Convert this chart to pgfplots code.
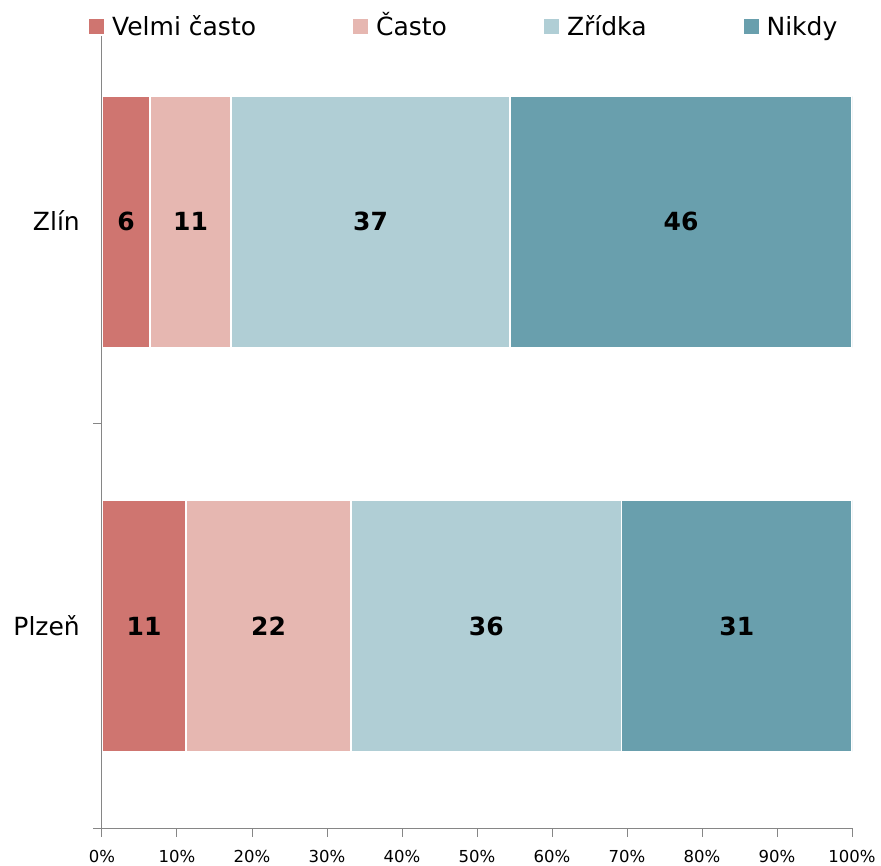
\documentclass[border=0pt]{standalone}
\usepackage{pgfplots}
\pgfplotsset{compat=1.18}
\usepackage{pgfplotstable}
\usepackage{fontspec}
\setmainfont{DejaVu Sans}
\definecolor{cA}{RGB}{207,117,112}
\definecolor{cB}{RGB}{230,183,177}
\definecolor{cC}{RGB}{176,206,213}
\definecolor{cD}{RGB}{105,159,173}
\definecolor{axgray}{RGB}{134,134,134}

\pgfplotstableread{
y x
0.5 11.2
1.5 6.4
}\velmi
\pgfplotstableread{
y x
0.5 22.0
1.5 10.8
}\casto
\pgfplotstableread{
y x
0.5 36.1
1.5 37.2
}\zridka
\pgfplotstableread{
y x
0.5 30.7
1.5 45.6
}\nikdy
\pgfplotstableread{
x y label
3.2 1.5 6
11.8 1.5 11
35.8 1.5 37
77.2 1.5 46
5.6 0.5 11
22.2 0.5 22
51.25 0.5 36
84.65 0.5 31
}\labels

\pgfplotsset{legsq/.style={legend image code/.code={\fill[##1,draw=none] (0pt,-7.5pt) rectangle (15pt,7.5pt);}}}

\begin{document}
\begin{tikzpicture}
\useasboundingbox (-102pt,-37pt) rectangle (779pt,828pt);
\begin{axis}[
  at={(0pt,0pt)}, anchor=south west,
  scale only axis, width=750pt, height=792pt,
  xbar stacked, bar width=251pt,
  xmin=0, xmax=100, ymin=0, ymax=1.96,
  axis x line*=bottom, axis y line*=left,
  axis line style={draw=axgray, line width=1pt, -},
  axis on top,
  tick align=outside, major tick length=8.5pt,
  tick style={draw=axgray, line width=1pt},
  xtick={0,10,...,100},
  xticklabels={0\%,10\%,20\%,30\%,40\%,50\%,60\%,70\%,80\%,90\%,100\%},
  xticklabel style={font=\fontsize{16.5}{20}\selectfont, inner sep=0pt, text height=12pt, text depth=0pt, yshift=-13.5pt},
  ytick={0,1},
  yticklabels={},
  extra y ticks={0.5,1.5},
  extra y tick labels={Plzeň,Zlín},
  extra y tick style={major tick length=0pt, tick style={draw=none}},
  yticklabel style={font=\fontsize{25}{29}\selectfont, inner sep=0pt, text height=18.2pt, text depth=0pt, xshift=-22pt},
  legend columns=-1,
  legend style={at={(0,1)}, anchor=west, xshift=-13pt, yshift=9pt, draw=none, fill=none, inner xsep=0pt, inner ysep=0pt,
     nodes={inner sep=0pt, font=\fontsize{25}{29}\selectfont},
     /tikz/every odd column/.append style={column sep=8pt},
     /tikz/every even column/.append style={column sep=97pt, text height=18.2pt, text depth=0pt}},
]
\addplot[fill=cA, draw=white, line width=1.2pt, legsq] table[x=x,y=y] {\velmi};
\addlegendentry{Velmi často}
\addplot[fill=cB, draw=white, line width=1.2pt, legsq] table[x=x,y=y] {\casto};
\addlegendentry{Často}
\addplot[fill=cC, draw=white, line width=1.2pt, legsq] table[x=x,y=y] {\zridka};
\addlegendentry{Zřídka}
\addplot[fill=cD, draw=white, line width=1.2pt, legsq] table[x=x,y=y] {\nikdy};
\addlegendentry{Nikdy}
\end{axis}
\begin{axis}[
  at={(0pt,0pt)}, anchor=south west,
  scale only axis, width=750pt, height=792pt,
  xmin=0, xmax=100, ymin=0, ymax=1.96,
  hide axis,
]
\addplot[draw=none, mark=none, nodes near coords, point meta=explicit symbolic,
  every node near coord/.append style={anchor=center, font=\bfseries\fontsize{25}{29}\selectfont, text height=18.2pt, text depth=0pt, inner sep=0pt}]
  table[x=x, y=y, meta=label] {\labels};
\end{axis}
\end{tikzpicture}
\end{document}
